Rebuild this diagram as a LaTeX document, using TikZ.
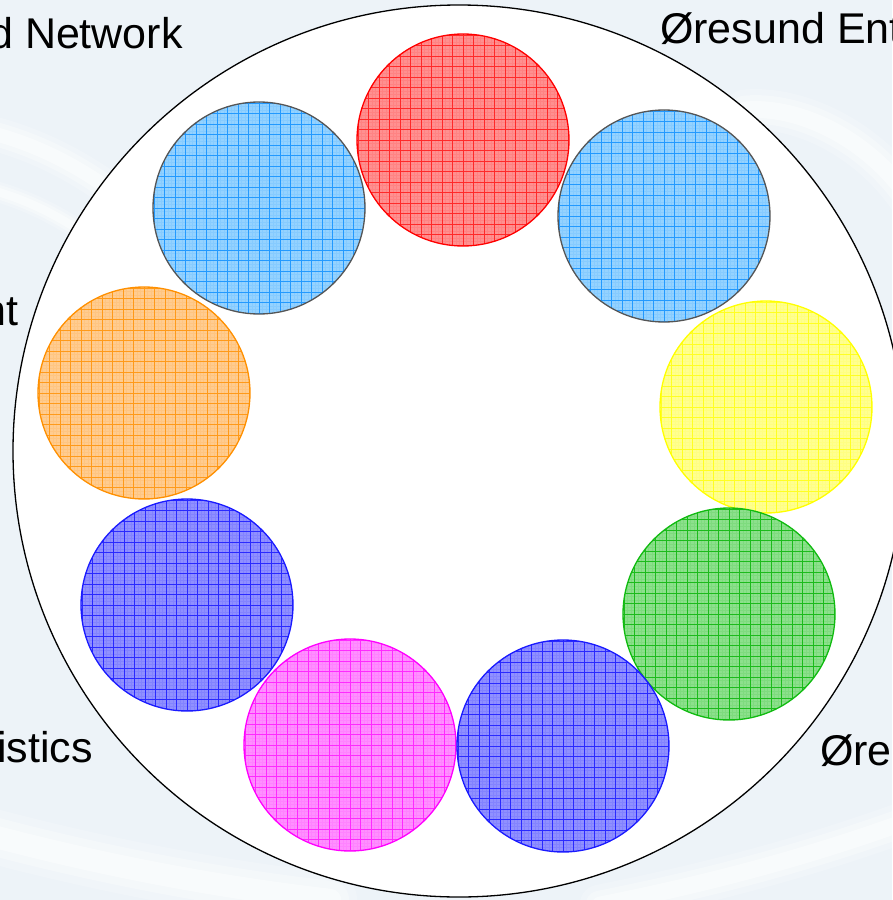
\documentclass[tikz,border=0pt]{standalone}
\usepackage{fontspec}
\setmainfont{Liberation Sans}
\definecolor{bgc}{HTML}{EDF3F8}
\definecolor{redF}{HTML}{FF9090}\definecolor{redG}{HTML}{FF2A2A}\definecolor{redB}{HTML}{FF0000}
\definecolor{skyF}{HTML}{94D2FF}\definecolor{skyG}{HTML}{2299FF}\definecolor{skyB}{HTML}{555555}
\definecolor{orF}{HTML}{FFCC90}\definecolor{orG}{HTML}{FF9A1A}\definecolor{orB}{HTML}{FF9000}
\definecolor{yeF}{HTML}{FFFF90}\definecolor{yeG}{HTML}{FFFF22}\definecolor{yeB}{HTML}{FFFF00}
\definecolor{blF}{HTML}{9090FF}\definecolor{blG}{HTML}{2A2AFF}\definecolor{blB}{HTML}{1A1AFF}
\definecolor{grF}{HTML}{8CE08C}\definecolor{grG}{HTML}{1CBB1C}\definecolor{grB}{HTML}{10BB10}
\definecolor{maF}{HTML}{FF90FF}\definecolor{maG}{HTML}{FF2AFF}\definecolor{maB}{HTML}{FF00FF}
\tikzset{
  ball/.style n args={3}{circle, minimum size=212pt, inner sep=0pt, draw=#1, line width=1.3pt, fill=#2,
    path picture={
      \draw[#3, line width=0.3pt, opacity=0.12] (path picture bounding box.south west) grid[step=3.5pt] (path picture bounding box.north east);
      \draw[#3, line width=0.65pt] (path picture bounding box.south west) grid[step=10.5pt] (path picture bounding box.north east);
    }},
  lab/.style={anchor=base west, inner sep=0pt, font=\fontsize{43}{50}\selectfont},
  swoosh/.style={white, line cap=round, opacity=#1},
}
\begin{document}
\begin{tikzpicture}[x=1pt,y=-1pt]
\useasboundingbox (0,0) rectangle (892,900);
\fill[bgc] (0,0) rectangle (892,900);
% background swooshes
\begin{scope}
\clip (0,0) rectangle (892,900);
\foreach \w/\o in {34/0.2,24/0.3,14/0.45}{
  \draw[swoosh=\o, line width=\w pt] (-30,128) .. controls (30,140) and (80,165) .. (130,205);
  \draw[swoosh=\o, line width=0.6*\w pt] (-30,185) .. controls (20,195) and (60,215) .. (100,245);
  \draw[swoosh=\o, line width=1.2*\w pt] (745,110) .. controls (800,105) and (870,140) .. (910,200);
  \draw[swoosh=\o, line width=1.6*\w pt] (-30,830) .. controls (80,860) and (200,885) .. (330,900);
  \draw[swoosh=\o, line width=1.2*\w pt] (600,905) .. controls (700,885) and (800,860) .. (910,820);
}
\end{scope}
\node[circle, minimum size=892pt, inner sep=0pt, fill=white, draw=black, line width=1.3pt] (ring) at (459,451) {};
% circles
\node[ball={redB}{redF}{redG}] (c1) at (463,140) {};
\node[ball={skyB}{skyF}{skyG}] (c2) at (259,208) {};
\node[ball={skyB}{skyF}{skyG}] (c3) at (664,216) {};
\node[ball={orB}{orF}{orG}] (c4) at (144,393) {};
\node[ball={yeB}{yeF}{yeG}] (c5) at (766,407) {};
\node[ball={blB}{blF}{blG}] (c6) at (187,605) {};
\node[ball={grB}{grF}{grG}] (c7) at (729,614) {};
\node[ball={maB}{maF}{maG}] (c8) at (350,745) {};
\node[ball={blB}{blF}{blG}] (c9) at (563,746) {};
% labels
\node[lab] (t1) at (-11,48) {d Network};
\node[lab] (t2) at (660,43) {Øresund Ent};
\node[lab] (t3) at (-18,325) {nt};
\node[lab] (t4) at (-3,762) {istics};
\node[lab] (t5) at (820,765) {Øre};
\end{tikzpicture}
\end{document}
